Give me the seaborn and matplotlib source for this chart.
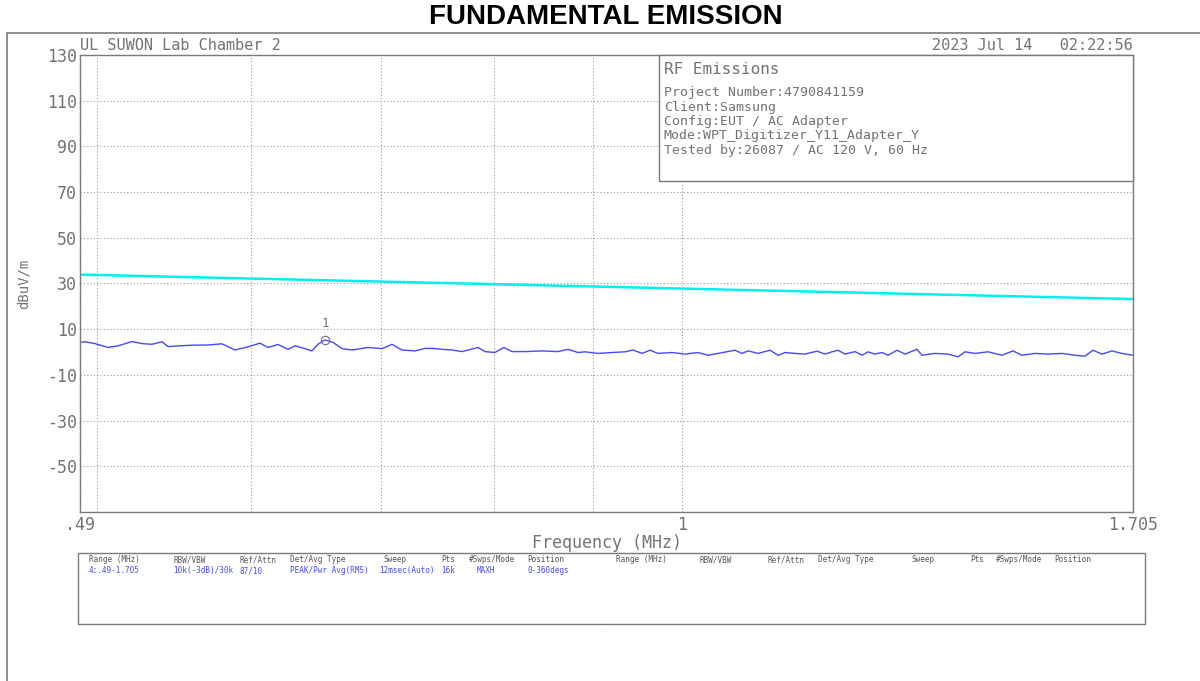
import matplotlib
matplotlib.use("Agg")
import matplotlib.pyplot as plt
import seaborn as sns
import pandas as pd
from matplotlib.patches import Rectangle
from matplotlib.lines import Line2D

# Trace 4 (MAXH)
freq_mhz = [0.4900, 0.4929, 0.4988, 0.5065, 0.5126, 0.5211, 0.5273, 0.5336, 0.5400, 0.5438,
            0.5503, 0.5595, 0.5702, 0.5797, 0.5887, 0.5979, 0.6064, 0.6122, 0.6195, 0.6268,
            0.6321, 0.6396, 0.6449, 0.6495, 0.6549, 0.6612, 0.6683, 0.6762, 0.6891, 0.7007,
            0.7090, 0.7174, 0.7286, 0.7373, 0.7443, 0.7523, 0.7612, 0.7703, 0.7850, 0.7915,
            0.8009, 0.8095, 0.8172, 0.8299, 0.8468, 0.8630, 0.8733, 0.8837, 0.8910, 0.9049,
            0.9200, 0.9343, 0.9432, 0.9533, 0.9623, 0.9715, 0.9877, 1.0031, 1.0186, 1.0308,
            1.0431, 1.0643, 1.0731, 1.0808, 1.0937, 1.1093, 1.1199, 1.1292, 1.1427, 1.1563,
            1.1728, 1.1839, 1.1938, 1.2023, 1.2123, 1.2268, 1.2370, 1.2458, 1.2562, 1.2666,
            1.2756, 1.2893, 1.3016, 1.3202, 1.3280, 1.3486, 1.3695, 1.3858, 1.3974, 1.4140,
            1.4359, 1.4600, 1.4791, 1.4949, 1.5181, 1.5417, 1.5675, 1.5918, 1.6107, 1.6261,
            1.6435, 1.6631, 1.6829, 1.7050]
level_dbuv = [4.2, 4.5, 3.7, 2.0, 2.7, 4.6, 3.7, 3.4, 4.5, 2.4,
              2.7, 3.0, 3.1, 3.6, 0.9, 2.3, 3.9, 2.0, 3.3, 1.2,
              2.7, 1.5, 0.5, 3.4, 5.3, 4.2, 1.5, 0.9, 2.0, 1.5,
              3.4, 0.9, 0.5, 1.6, 1.6, 1.2, 0.9, 0.2, 2.0, 0.2,
              -0.2, 2.0, 0.2, 0.2, 0.5, 0.2, 1.2, -0.2, 0.1, -0.6,
              -0.2, 0.1, 0.9, -0.6, 0.8, -0.6, -0.2, -0.9, -0.2, -1.4,
              -0.6, 0.8, -0.6, 0.5, -0.6, 0.8, -1.4, -0.2, -0.6, -0.9,
              0.4, -0.9, 0.1, 0.8, -0.9, 0.2, -1.4, 0.1, -0.9, -0.2,
              -1.4, 0.8, -0.9, 1.2, -1.4, -0.6, -0.9, -2.1, 0.1, -0.6,
              0.1, -1.4, 0.5, -1.4, -0.6, -0.9, -0.6, -1.4, -1.8, 0.8,
              -0.9, 0.5, -0.6, -1.4]

# limit line (straight on the log axis)
limit_freq = [0.49, 1.705]
limit_dbuv = [33.9, 23.2]

# marker 1
marker_freq = [0.6549]
marker_dbuv = [5.3]

y_ticks = [-50, -30, -10, 10, 30, 50, 70, 90, 110, 130]
x_major = [0.49, 1.0, 1.705]
x_major_labels = [".49", "1", "1.705"]
x_minor = [0.5, 0.6, 0.7, 0.8, 0.9]

info_title = "RF Emissions"
info_lines = ["Project Number:4790841159",
              "Client:Samsung",
              "Config:EUT / AC Adapter",
              "Mode:WPT_Digitizer_Y11_Adapter_Y",
              "Tested by:26087 / AC 120 V, 60 Hz"]

table_headers = ["Range (MHz)", "RBW/VBW", "Ref/Attn", "Det/Avg Type", "Sweep", "Pts",
                 "#Swps/Mode", "Position"]
table_values = ["4:.49-1.705", "10k(-3dB)/30k", "87/10", "PEAK/Pwr Avg(RMS)", "12msec(Auto)",
                "16k", "MAXH", "0-360degs"]

sns.set_style("white")
plt.rcParams['font.family'] = ['DejaVu Sans Mono']

W, H = 1200, 681
fig = plt.figure(figsize=(12, 6.81), dpi=100)

def fx(x):
    return x / W

def fy(y):
    return 1 - y / H

GRAY = "#7a7a7a"
TXT = "#737373"
BLUE = "#4848ff"

ax = fig.add_axes([fx(80), fy(512), (1133 - 80) / W, (512 - 55) / H])

trace = pd.DataFrame({"freq": freq_mhz, "level": level_dbuv})
limit = pd.DataFrame({"freq": limit_freq, "level": limit_dbuv})
sns.lineplot(data=limit, x="freq", y="level", ax=ax, color="#00f0f0", linewidth=1.8)
sns.lineplot(data=trace, x="freq", y="level", ax=ax, color=BLUE, linewidth=1.0)
ax.plot(marker_freq, marker_dbuv, marker="o", markersize=6, markerfacecolor="none",
        markeredgecolor=GRAY, markeredgewidth=0.9, linestyle="none")
ax.annotate("1", (marker_freq[0], marker_dbuv[0]), xytext=(0, 7), textcoords="offset points",
            ha="center", va="bottom", fontsize=9, color=TXT)

ax.set_xscale("log")
ax.set_xlim(0.49, 1.705)
ax.set_ylim(-70, 130)
ax.set_xticks(x_major)
ax.set_xticklabels(x_major_labels)
ax.set_xticks(x_minor, minor=True)
ax.set_xticklabels([], minor=True)
ax.set_yticks(y_ticks)
ax.set_yticklabels([str(v) for v in y_ticks])
ax.tick_params(axis="both", which="both", length=0, labelsize=12, labelcolor=TXT)
ax.tick_params(axis="x", pad=3)
ax.tick_params(axis="y", pad=2)
ax.grid(True, which="both", color="#9a9a9a", linestyle=(0, (1, 2)), linewidth=0.8)
for s in ax.spines.values():
    s.set_color(GRAY)
    s.set_linewidth(1.0)
ax.set_xlabel("Frequency (MHz)", fontsize=12, color=TXT, labelpad=0)
ax.set_ylabel("dBuV/m", fontsize=10, color=TXT, labelpad=12)

# title and page frame
fig.text(0.5 + 6 / W, fy(17), "FUNDAMENTAL EMISSION", ha="center", va="center",
         fontsize=20, fontweight="bold", family="Liberation Sans", color="black")
fig.add_artist(Line2D([fx(7), 1.0], [fy(33), fy(33)], color=GRAY, linewidth=1.2))
fig.add_artist(Line2D([fx(7), fx(7)], [fy(33), 0.0], color=GRAY, linewidth=1.2))

fig.text(fx(80), fy(46), "UL SUWON Lab Chamber 2", ha="left", va="center",
         fontsize=11, color=TXT)
fig.text(fx(1133), fy(46), "2023 Jul 14   02:22:56", ha="right", va="center",
         fontsize=11, color=TXT)

# info box
fig.patches.append(Rectangle((fx(659), fy(181)), (1133 - 659) / W, (181 - 55) / H,
                             transform=fig.transFigure, facecolor="white",
                             edgecolor=GRAY, linewidth=1.0, zorder=2))
fig.text(fx(664), fy(70), info_title, ha="left", va="center", fontsize=11.5,
         color=TXT, zorder=3)
for i, line in enumerate(info_lines):
    fig.text(fx(664), fy(92.5 + i * 14.5), line, ha="left", va="center", fontsize=9.5,
             color=TXT, zorder=3)

# settings table
fig.patches.append(Rectangle((fx(78), fy(624)), (1145 - 78) / W, (624 - 553) / H,
                             transform=fig.transFigure, facecolor="white",
                             edgecolor=GRAY, linewidth=1.0, zorder=2))
fig.add_artist(Line2D([fx(606), fx(606)], [fy(553), fy(624)], color=GRAY, linewidth=1.0))
left_cols = [89, 173, 240, 290, 383, 441, 469, 527]
value_cols = [89, 173, 240, 290, 379, 441, 477, 527]
right_cols = [616, 700, 768, 818, 912, 970, 996, 1054]
for x, h in zip(left_cols, table_headers):
    fig.text(fx(x), fy(560), h, ha="left", va="center", fontsize=5.5, color="#555555")
for x, v in zip(value_cols, table_values):
    fig.text(fx(x), fy(570.5), v, ha="left", va="center", fontsize=5.5, color=BLUE)
for x, h in zip(right_cols, table_headers):
    fig.text(fx(x), fy(560), h, ha="left", va="center", fontsize=5.5, color="#555555")

fig.savefig("out.png", dpi=100, facecolor="white")
